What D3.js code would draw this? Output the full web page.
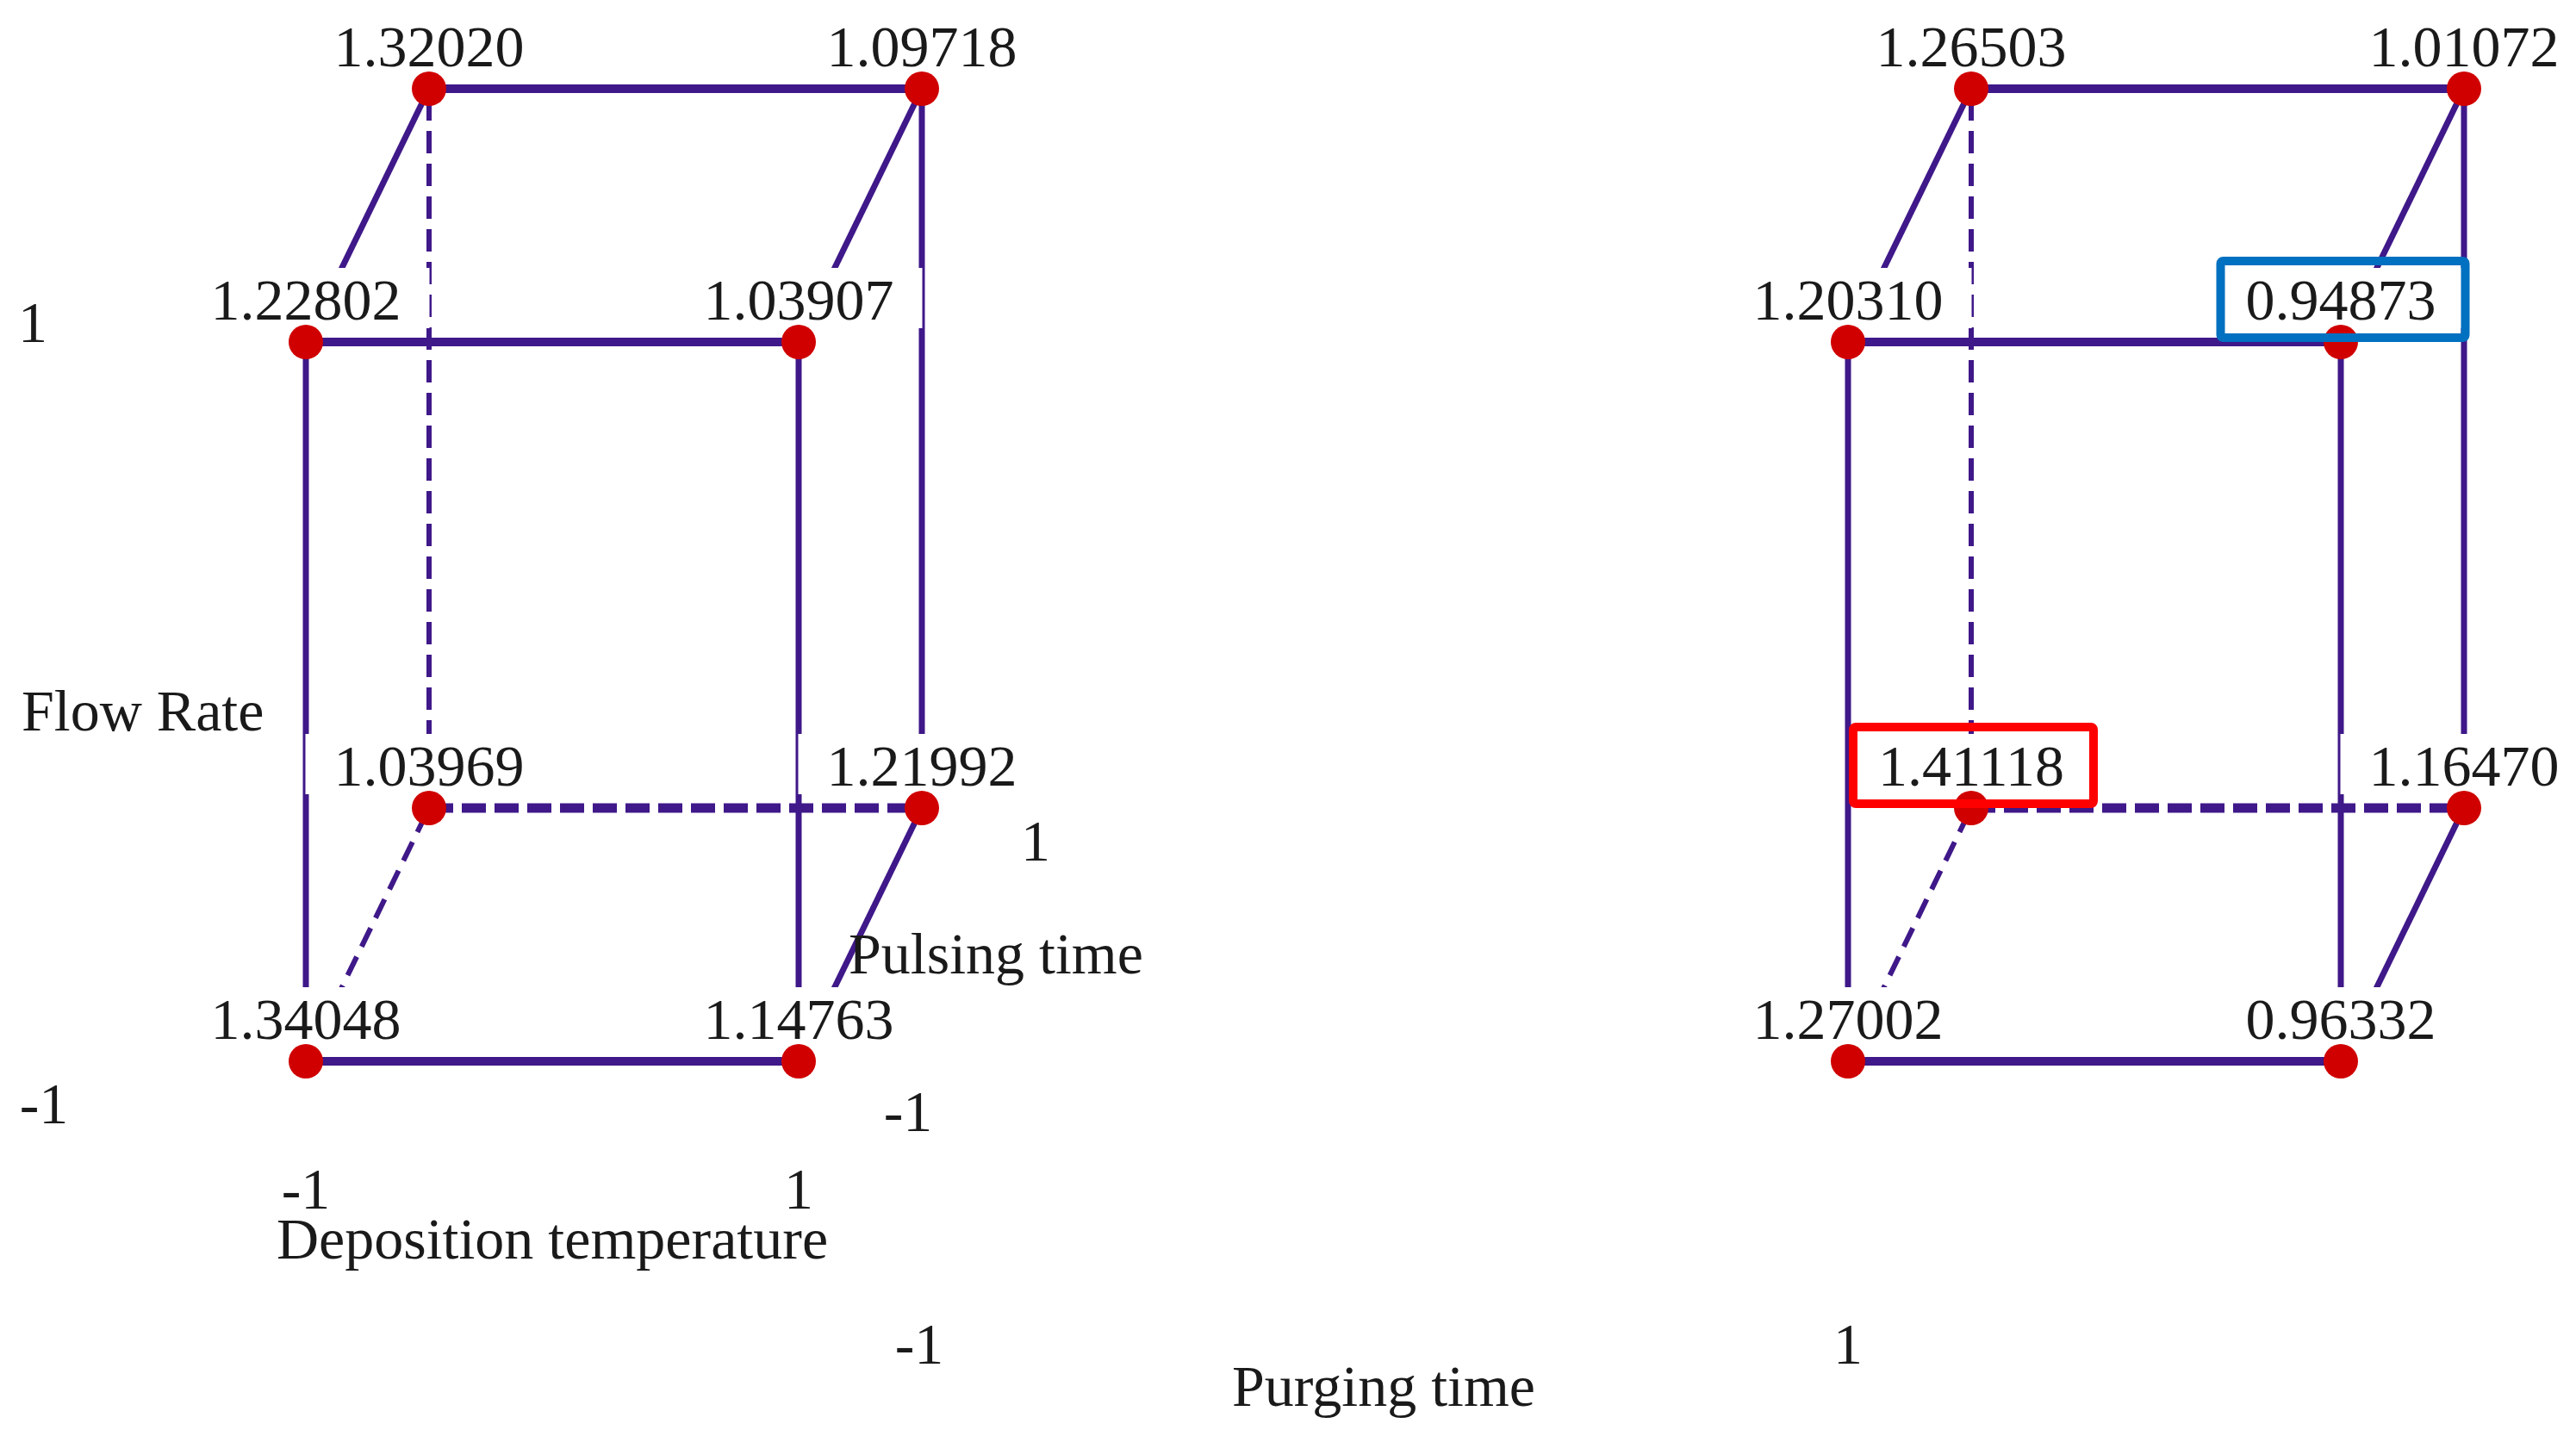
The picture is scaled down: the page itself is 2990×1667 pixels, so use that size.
<!DOCTYPE html>
<html><head><meta charset="utf-8">
<script src="https://cdn.jsdelivr.net/npm/d3@7"></script>
<style>html,body{margin:0;padding:0;background:#fff;} svg{display:block;}</style>
</head><body>
<svg id="chart" width="2990" height="1667"></svg>
<script>
// ---- data ----
const depositionTemperature = [-1, 1, -1, 1, -1, 1, -1, 1];
const flowRate              = [-1, -1, 1, 1, -1, -1, 1, 1];
const pulsingTime           = [-1, -1, -1, -1, 1, 1, 1, 1];
const purgingTimeLevels     = [-1, 1];
const responsePurgingMinus  = [1.34048, 1.14763, 1.22802, 1.03907, 1.03969, 1.21992, 1.32020, 1.09718];
const responsePurgingPlus   = [1.27002, 0.96332, 1.20310, 0.94873, 1.41118, 1.16470, 1.26503, 1.01072];
const levelTicks            = [-1, 1];
const axisTitles            = ["Deposition temperature", "Flow Rate", "Pulsing time", "Purging time"];

// ---- layout ----
const W = 2990, H = 1667;
const FONT = "'Liberation Serif','Times New Roman',serif";
const FS = 68;
const LINE = "#3f1889", DOT = "#d00000", TXT = "#1a1a1a";

const svg = d3.select("#chart");
svg.append("rect").attr("width", W).attr("height", H).attr("fill", "#fff");

const x = d3.scaleLinear().domain([-1, 1]).range([355, 927]);
const y = d3.scaleLinear().domain([-1, 1]).range([1232, 397]);
const depthX = d3.scaleLinear().domain([-1, 1]).range([0, 143]);
const depthY = d3.scaleLinear().domain([-1, 1]).range([0, -294]);
const panel = d3.scaleLinear().domain([-1, 1]).range([0, 1790]);
const purgingAxis = d3.scaleLinear().domain([-1, 1]).range([1067, 2145]);

const responses = [responsePurgingMinus, responsePurgingPlus];
const points = [];
purgingTimeLevels.forEach((p, pi) => {
  responses[pi].forEach((v, i) => {
    points.push({
      p, i, v,
      dep: depositionTemperature[i], flow: flowRate[i], pulse: pulsingTime[i],
      px: panel(p) + x(depositionTemperature[i]) + depthX(pulsingTime[i]),
      py: y(flowRate[i]) + depthY(pulsingTime[i])
    });
  });
});

// edges of each cube
const edges = [];
purgingTimeLevels.forEach(p => {
  const pts = points.filter(d => d.p === p);
  for (let a = 0; a < 8; a++) for (let b = a + 1; b < 8; b++) {
    const A = pts[a], B = pts[b];
    const diff = (A.dep !== B.dep) + (A.flow !== B.flow) + (A.pulse !== B.pulse);
    if (diff !== 1) continue;
    const kind = A.dep !== B.dep ? "h" : (A.flow !== B.flow ? "v" : "d");
    const hidden = [A, B].some(d => d.dep === -1 && d.flow === -1 && d.pulse === 1);
    edges.push({A, B, kind, hidden});
  }
});

const widths = {h: 10, v: 7, d: 7};
const dwidths = {h: 11, v: 6, d: 6};
const dashes = {h: "28,10", v: "26,12", d: "24,13"};

svg.append("g").selectAll("line").data(edges).join("line")
  .attr("x1", d => d.A.px).attr("y1", d => d.A.py)
  .attr("x2", d => d.B.px).attr("y2", d => d.B.py)
  .attr("stroke", LINE)
  .attr("stroke-width", d => d.hidden ? dwidths[d.kind] : widths[d.kind])
  .attr("stroke-dasharray", d => d.hidden ? dashes[d.kind] : null);

// value labels with white backgrounds
const fmt = d3.format(".5f");
const lab = svg.append("g");
const labelInfo = [];
points.forEach(d => {
  const g = lab.append("g");
  const bg = g.append("rect").attr("fill", "#fff");
  const t = g.append("text")
    .attr("x", d.px).attr("y", d.py - 26)
    .attr("text-anchor", "middle")
    .attr("font-family", FONT).attr("font-size", FS).attr("fill", TXT)
    .text(fmt(d.v));
  const bb = t.node().getBBox();
  bg.attr("x", bb.x - 33).attr("width", bb.width + 66)
    .attr("y", d.py - 26 - 60).attr("height", 70);
  labelInfo.push({d, bb});
});

// dots
svg.append("g").selectAll("circle").data(points).join("circle")
  .attr("cx", d => d.px).attr("cy", d => d.py).attr("r", 20).attr("fill", DOT);

// highlight max (red) and min (blue)
const all = points.map(d => d.v);
const vmax = d3.max(all), vmin = d3.min(all);
labelInfo.forEach(({d, bb}) => {
  let col = null;
  if (d.v === vmax) col = "#ff0000";
  if (d.v === vmin) col = "#0070c0";
  if (!col) return;
  const base = d.py - 26;
  svg.append("rect")
    .attr("x", bb.x - 29).attr("y", base - 68)
    .attr("width", bb.width + 29 + 34).attr("height", 68 + 21)
    .attr("rx", 3)
    .attr("fill", "none").attr("stroke", col).attr("stroke-width", 10);
});

// axis labels
const txt = (s, tx, ty, anchor = "middle") => svg.append("text")
  .attr("x", tx).attr("y", ty).attr("text-anchor", anchor)
  .attr("font-family", FONT).attr("font-size", FS).attr("fill", TXT).text(s);

// Flow Rate ticks
txt(String(levelTicks[1]), 38, y(1));
txt(String(levelTicks[0]), 51, y(-1) + 72);
txt(axisTitles[1], 25, 848, "start");
// Deposition temperature
levelTicks.forEach(v => txt(String(v), x(v), 1403));
txt(axisTitles[0], (x(-1) + x(1)) / 2, 1461);
// Pulsing time
txt(String(levelTicks[1]), 1202, 999);
txt(String(levelTicks[0]), 1054, 1313);
txt(axisTitles[2], 985, 1130, "start");
// Purging time
levelTicks.forEach(v => txt(String(v), purgingAxis(v), 1583));
txt(axisTitles[3], (purgingAxis(-1) + purgingAxis(1)) / 2, 1632);
</script>
</body></html>
